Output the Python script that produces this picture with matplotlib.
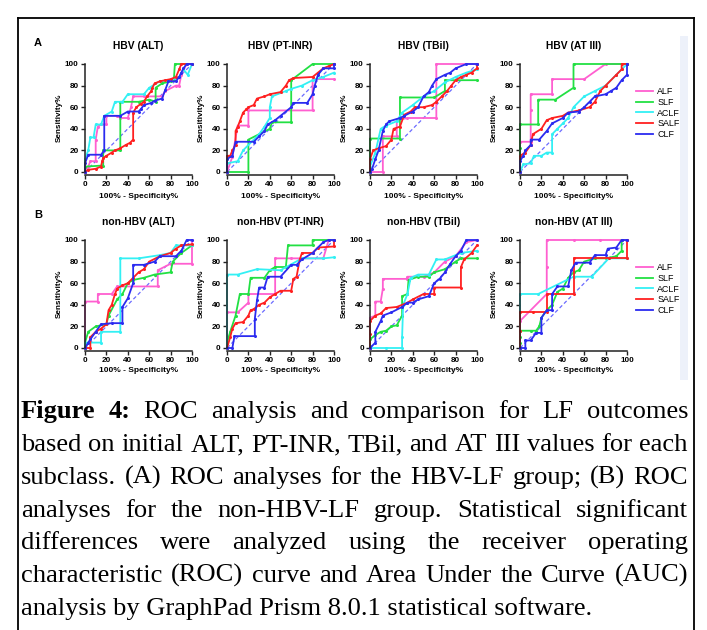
import matplotlib
matplotlib.use("Agg")
import matplotlib.pyplot as plt
from matplotlib.lines import Line2D
from matplotlib.patches import Rectangle

W, H = 707, 630

labels = ["ALF", "SLF", "ACLF", "SALF", "CLF"]
colors = ["#ff5fd0", "#22e043", "#33f0f4", "#ff2020", "#2b2bf0"]

# (100% - specificity, sensitivity) points
hbv_alt = {
    "ALF": [(0, 0), (3, 5), (5, 10), (10, 10), (10, 30), (12, 42), (15, 44), (20, 44), (20, 52), (30, 52), (33, 50), (40, 50), (43, 60), (45, 70), (55, 70), (72, 70), (75, 75), (85, 80), (88, 80), (90, 90), (95, 100), (100, 100)],
    "SLF": [(0, 0), (0, 5), (17, 6), (17, 20), (33, 20), (33, 65), (50, 65), (60, 67), (66, 65), (66, 78), (72, 82), (80, 84), (83, 85), (84, 100), (100, 100)],
    "ACLF": [(0, 0), (0, 12), (3, 20), (5, 32), (8, 32), (10, 44), (15, 44), (18, 52), (25, 56), (28, 65), (35, 65), (40, 72), (55, 72), (60, 78), (70, 84), (80, 85), (88, 88), (92, 95), (96, 90), (100, 100)],
    "SALF": [(0, 0), (3, 2), (10, 3), (15, 5), (16, 10), (17, 13), (20, 15), (25, 18), (28, 20), (33, 22), (38, 25), (42, 27), (45, 30), (45, 55), (48, 60), (52, 63), (55, 65), (58, 70), (62, 75), (63, 78), (65, 82), (70, 84), (75, 85), (80, 86), (85, 88), (88, 95), (90, 100), (100, 100)],
    "CLF": [(0, 0), (0, 8), (3, 16), (15, 16), (18, 20), (18, 52), (33, 52), (40, 56), (50, 56), (52, 58), (55, 62), (62, 64), (65, 66), (72, 68), (75, 76), (78, 84), (85, 84), (88, 88), (90, 92), (92, 96), (95, 100), (100, 100)],
}
hbv_inr = {
    "ALF": [(0, 0), (5, 14), (10, 43), (20, 43), (20, 57), (80, 57), (80, 86), (100, 86)],
    "SLF": [(0, 0), (20, 0), (20, 30), (40, 40), (42, 46), (60, 46), (60, 85), (80, 100), (100, 100)],
    "ACLF": [(0, 0), (0, 8), (10, 10), (15, 20), (25, 30), (30, 35), (35, 42), (40, 50), (40, 60), (42, 70), (55, 75), (60, 77), (70, 80), (80, 85), (90, 88), (100, 92)],
    "SALF": [(0, 0), (0, 15), (3, 15), (5, 20), (8, 25), (8, 38), (10, 42), (12, 47), (15, 55), (18, 58), (20, 60), (25, 62), (28, 68), (35, 70), (40, 72), (50, 74), (55, 80), (58, 85), (62, 87), (80, 88), (85, 92), (90, 96), (95, 98), (100, 100)],
    "CLF": [(0, 0), (0, 12), (5, 15), (8, 28), (25, 28), (30, 33), (35, 38), (38, 44), (45, 48), (50, 52), (60, 60), (62, 64), (75, 64), (80, 72), (82, 80), (85, 90), (90, 96), (100, 96), (100, 100)],
}
hbv_tbil = {
    "ALF": [(0, 0), (12, 0), (12, 33), (25, 33), (25, 48), (35, 50), (62, 50), (62, 100), (100, 100)],
    "SLF": [(0, 0), (0, 31), (28, 31), (28, 69), (60, 69), (70, 75), (70, 85), (100, 85)],
    "ACLF": [(0, 0), (0, 5), (5, 18), (10, 40), (15, 43), (25, 47), (30, 55), (40, 62), (50, 70), (60, 75), (70, 83), (80, 88), (90, 92), (100, 95)],
    "SALF": [(0, 0), (0, 12), (3, 20), (8, 22), (15, 24), (20, 30), (22, 40), (28, 42), (32, 53), (38, 56), (42, 60), (50, 60), (58, 62), (62, 65), (67, 70), (72, 75), (76, 80), (80, 85), (85, 88), (90, 90), (95, 92), (100, 96), (100, 100)],
    "CLF": [(0, 0), (2, 3), (5, 12), (8, 20), (12, 38), (15, 44), (18, 47), (28, 50), (32, 52), (40, 56), (45, 60), (50, 70), (55, 74), (58, 80), (62, 86), (70, 90), (75, 92), (80, 96), (90, 100), (100, 100)],
}
hbv_at3 = {
    "ALF": [(0, 0), (0, 28), (10, 28), (10, 57), (10, 72), (30, 72), (30, 86), (60, 86), (80, 100), (100, 100)],
    "SLF": [(0, 0), (0, 22), (0, 44), (17, 44), (17, 67), (33, 67), (50, 78), (50, 100), (100, 100)],
    "ACLF": [(0, 0), (3, 7), (10, 8), (13, 15), (20, 15), (25, 18), (30, 18), (30, 35), (35, 40), (40, 45), (45, 50), (50, 60), (60, 70), (70, 75), (80, 80), (90, 90), (95, 95), (100, 100)],
    "SALF": [(0, 0), (0, 15), (5, 18), (10, 25), (12, 35), (20, 40), (25, 48), (30, 50), (40, 52), (45, 55), (55, 57), (65, 60), (70, 65), (75, 75), (80, 80), (90, 90), (95, 95), (95, 100), (100, 100)],
    "CLF": [(0, 0), (0, 10), (3, 15), (5, 20), (10, 25), (10, 30), (18, 30), (25, 38), (30, 45), (40, 50), (45, 55), (55, 56), (60, 60), (65, 65), (70, 70), (80, 72), (85, 75), (90, 78), (95, 85), (100, 90), (100, 100)],
}
nonhbv_alt = {
    "ALF": [(0, 0), (0, 43), (12, 43), (12, 50), (25, 50), (30, 57), (68, 57), (68, 72), (80, 78), (100, 78), (100, 100)],
    "SLF": [(0, 0), (0, 5), (3, 15), (10, 20), (20, 22), (22, 30), (30, 45), (35, 50), (40, 60), (45, 63), (55, 65), (65, 68), (80, 70), (82, 80), (90, 88), (100, 95)],
    "ACLF": [(0, 0), (0, 5), (15, 5), (15, 15), (33, 15), (33, 83), (50, 83), (70, 86), (80, 88), (85, 95), (90, 95), (100, 95)],
    "SALF": [(0, 0), (5, 0), (5, 10), (10, 15), (15, 18), (20, 22), (22, 35), (25, 40), (28, 50), (30, 55), (35, 58), (40, 60), (45, 65), (50, 70), (55, 73), (60, 80), (70, 85), (80, 88), (85, 92), (90, 95), (100, 96)],
    "CLF": [(0, 0), (3, 5), (5, 8), (10, 15), (15, 22), (25, 23), (35, 23), (35, 38), (40, 46), (45, 60), (45, 77), (55, 77), (65, 80), (70, 85), (85, 85), (90, 90), (95, 100), (100, 100)],
}
nonhbv_inr = {
    "ALF": [(0, 0), (0, 33), (10, 33), (20, 42), (20, 50), (45, 50), (45, 83), (60, 83), (90, 83), (95, 100)],
    "SLF": [(0, 0), (0, 5), (3, 15), (8, 30), (12, 50), (20, 50), (22, 65), (35, 65), (40, 72), (45, 75), (55, 75), (57, 95), (80, 95), (80, 100), (100, 100)],
    "ACLF": [(0, 0), (0, 68), (10, 68), (28, 73), (50, 72), (70, 83), (90, 83), (100, 84)],
    "SALF": [(0, 0), (3, 10), (5, 18), (8, 23), (15, 24), (20, 30), (22, 35), (25, 36), (30, 40), (35, 42), (40, 47), (45, 50), (50, 53), (60, 53), (62, 64), (65, 66), (68, 82), (70, 88), (80, 88), (85, 93), (100, 94), (100, 100)],
    "CLF": [(0, 0), (5, 0), (7, 11), (26, 11), (26, 27), (28, 44), (30, 56), (35, 56), (38, 66), (50, 66), (60, 77), (65, 77), (70, 82), (80, 88), (90, 98), (95, 100), (100, 100)],
}
nonhbv_tbil = {
    "ALF": [(0, 0), (0, 28), (5, 30), (5, 43), (10, 43), (12, 55), (12, 64), (35, 64), (35, 66), (50, 66), (60, 70), (70, 80), (80, 85), (90, 98), (100, 100)],
    "SLF": [(0, 0), (0, 8), (5, 12), (10, 15), (15, 16), (20, 20), (25, 21), (30, 30), (30, 48), (35, 50), (36, 63), (45, 66), (55, 66), (60, 70), (70, 73), (80, 80), (85, 83), (100, 83)],
    "ACLF": [(0, 0), (15, 0), (30, 0), (30, 10), (31, 40), (35, 50), (38, 65), (45, 68), (55, 68), (62, 82), (70, 82), (85, 88), (100, 90)],
    "SALF": [(0, 0), (0, 13), (0, 25), (5, 30), (10, 32), (15, 37), (25, 38), (35, 42), (40, 45), (50, 50), (60, 50), (60, 56), (85, 56), (85, 75), (88, 82), (95, 88), (100, 95)],
    "CLF": [(0, 0), (5, 5), (5, 15), (10, 25), (12, 30), (20, 33), (30, 38), (35, 42), (40, 42), (45, 45), (55, 48), (60, 60), (65, 64), (70, 70), (75, 78), (80, 85), (85, 90), (90, 100), (100, 100)],
}
nonhbv_at3 = {
    "ALF": [(0, 0), (0, 25), (25, 50), (25, 75), (25, 100), (50, 100), (75, 100), (100, 100)],
    "SLF": [(0, 0), (0, 5), (0, 10), (0, 16), (10, 16), (15, 16), (18, 20), (20, 28), (25, 35), (30, 40), (35, 52), (40, 55), (45, 65), (50, 70), (55, 72), (60, 80), (70, 83), (80, 83), (90, 85), (95, 90), (95, 100)],
    "ACLF": [(0, 0), (0, 50), (17, 50), (50, 66), (67, 66), (83, 83), (100, 83)],
    "SALF": [(0, 0), (0, 16), (0, 33), (12, 33), (25, 33), (25, 50), (50, 50), (50, 83), (83, 83), (100, 83), (100, 100)],
    "CLF": [(0, 0), (5, 0), (5, 7), (10, 7), (15, 14), (20, 14), (20, 28), (25, 35), (30, 35), (30, 50), (35, 57), (45, 57), (48, 72), (52, 79), (65, 79), (70, 86), (80, 86), (82, 92), (90, 93), (95, 100), (100, 100)],
}

titles_a = ["HBV (ALT)", "HBV (PT-INR)", "HBV (TBil)", "HBV (AT III)"]
titles_b = ["non-HBV (ALT)", "non-HBV (PT-INR)", "non-HBV (TBil)", "non-HBV (AT III)"]
ticks = [0, 20, 40, 60, 80, 100]

caption_lines = [
    "Figure 4: ROC analysis and comparison for LF outcomes",
    "based on initial ALT, PT-INR, TBil, and AT III values for each",
    "subclass. (A) ROC analyses for the HBV-LF group; (B) ROC",
    "analyses for the non-HBV-LF group. Statistical significant",
    "differences were analyzed using the receiver operating",
    "characteristic (ROC) curve and Area Under the Curve (AUC)",
    "analysis by GraphPad Prism 8.0.1 statistical software.",
]

SANS = "Liberation Sans"
SERIF = "Liberation Serif"

fig = plt.figure(figsize=(W / 100, H / 100), dpi=100)


def fx(px):
    return px / W


def fy(py):
    return 1 - py / H


col_left = [85, 227, 370, 520]
row_top = [64, 240]
AX_W, AX_H = 107, 108
title_y = [46, 222]
xlab_y = [196, 371]


def roc_panel(left, top, title, data, ty, ly):
    ax = fig.add_axes([fx(left), fy(top + AX_H), AX_W / W, AX_H / H])
    ax.plot([0, 100], [0, 100], color="#6b6bff", lw=0.9, dashes=(3, 2), zorder=1)
    for lab, col in zip(labels, colors):
        xs, ys = zip(*data[lab])
        ax.plot(xs, ys, color=col, lw=1.3, marker="o", ms=2.2, mew=0,
                clip_on=False, zorder=2)
    ax.set_xlim(0, 100)
    ax.set_ylim(0, 100)
    ax.set_xticks(ticks)
    ax.set_yticks(ticks)
    for s in ["top", "right"]:
        ax.spines[s].set_visible(False)
    for s in ["left", "bottom"]:
        ax.spines[s].set_linewidth(1.1)
        ax.spines[s].set_color("#222222")
    ax.spines["bottom"].set_position(("outward", 2))
    ax.tick_params(length=3, width=1, color="#222222", pad=1.5, labelsize=5.9)
    for t in ax.get_xticklabels() + ax.get_yticklabels():
        t.set_fontweight("bold")
        t.set_fontfamily(SANS)
    cx = left + AX_W / 2
    fig.text(fx(cx), fy(ty), title, ha="center", va="center", fontsize=7.4,
             fontweight="bold", family=SANS)
    fig.text(fx(cx), fy(ly), "100% - Specificity%", ha="center", va="center",
             fontsize=6, fontweight="bold", family=SANS)
    fig.text(fx(left - 26), fy(top + AX_H / 2), "Sensitivity%", ha="center",
             va="center", rotation=90, fontsize=5.9, fontweight="bold", family=SANS)
    return ax


row_a = [hbv_alt, hbv_inr, hbv_tbil, hbv_at3]
row_b = [nonhbv_alt, nonhbv_inr, nonhbv_tbil, nonhbv_at3]
for r, (row, names) in enumerate([(row_a, titles_a), (row_b, titles_b)]):
    for c in range(4):
        ax = roc_panel(col_left[c], row_top[r], names[c], row[c], title_y[r], xlab_y[r])
        if c == 3:
            handles = [Line2D([], [], color=col, lw=1.3) for col in colors]
            ax.legend(handles, labels, loc="upper left",
                      bbox_to_anchor=(fx(636), fy(row_top[r] + 23)),
                      bbox_transform=fig.transFigure, frameon=False,
                      prop={"family": SANS, "size": 6.4}, handlelength=1.9,
                      handletextpad=0.5, labelspacing=0.2, borderpad=0,
                      borderaxespad=0)

fig.text(fx(38), fy(43), "A", ha="center", va="center", fontsize=8,
         fontweight="bold", family=SANS)
fig.text(fx(38), fy(215), "B", ha="center", va="center", fontsize=8,
         fontweight="bold", family=SANS)

# frame, side strip and small scan mark
fig.add_artist(Rectangle((fx(680), fy(380)), 8 / W, 344 / H, transform=fig.transFigure,
                         facecolor="#edf1fa", edgecolor="none"))
for xs, ys in [([18, 694], [18, 18]), ([18, 18], [18, 630]), ([694, 694], [18, 630])]:
    fig.add_artist(Line2D([fx(v) for v in xs], [fy(v) for v in ys], color="black",
                          lw=1.3, transform=fig.transFigure))
fig.add_artist(Line2D([fx(450), fx(462)], [fy(369), fy(369)], color="#cccccc",
                      lw=1, transform=fig.transFigure))

# caption, justified like the journal layout
CAP_L, CAP_R = 21, 688
cap_base = [418, 451, 484, 517, 549, 582, 615]
renderer = fig.canvas.get_renderer()
probe = fig.text(0, 0, caption_lines[1], fontsize=10, family=SERIF)
cap_fs = 10 * 660 / probe.get_window_extent(renderer).width
probe.remove()

for i, line in enumerate(caption_lines):
    y = fy(cap_base[i])
    if i == len(caption_lines) - 1:
        fig.text(fx(CAP_L), y, line, fontsize=cap_fs, family=SERIF, va="baseline")
        continue
    words = line.split()
    items = []
    for j, w in enumerate(words):
        bold = i == 0 and j < 2
        items.append(fig.text(0, y, w, fontsize=cap_fs, family=SERIF, va="baseline",
                              fontweight="bold" if bold else "normal"))
    widths = [t.get_window_extent(renderer).width for t in items]
    gap = (CAP_R - CAP_L - sum(widths)) / (len(words) - 1)
    x = CAP_L
    for t, w in zip(items, widths):
        t.set_x(fx(x))
        x += w + gap

fig.savefig("out.png", dpi=100)
